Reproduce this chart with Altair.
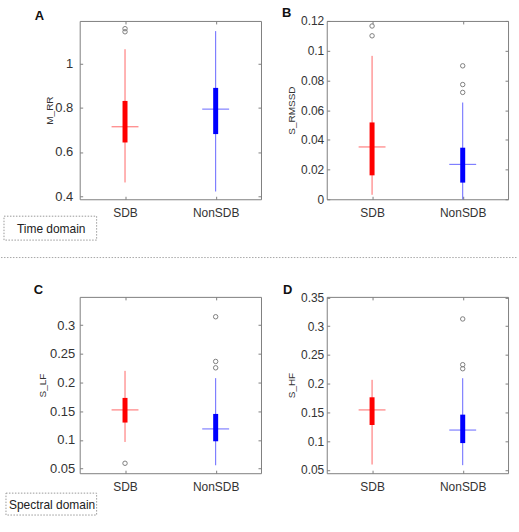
import altair as alt
import pandas as pd

FONT = "Liberation Sans"

groups = ["SDB", "NonSDB"]
box_colors = ["#ff0000", "#0000ff"]

# Box-plot summaries per measure: lower whisker, Q1, median, Q3, upper whisker
mrr_low = [0.462, 0.421]
mrr_q1 = [0.643, 0.681]
mrr_med = [0.714, 0.794]
mrr_q3 = [0.831, 0.890]
mrr_high = [1.065, 1.147]
mrr_out_group = ["SDB", "SDB"]
mrr_out_value = [1.144, 1.158]

rmssd_low = [0.0030, 0.0]
rmssd_q1 = [0.0161, 0.0112]
rmssd_med = [0.0352, 0.0235]
rmssd_q3 = [0.0517, 0.0347]
rmssd_high = [0.0965, 0.0651]
rmssd_out_group = ["SDB", "SDB", "NonSDB", "NonSDB", "NonSDB"]
rmssd_out_value = [0.1166, 0.1100, 0.0898, 0.0772, 0.0719]

lf_low = [0.0964, 0.0558]
lf_q1 = [0.1302, 0.0976]
lf_med = [0.1522, 0.1191]
lf_q3 = [0.1731, 0.1452]
lf_high = [0.2202, 0.2075]
lf_out_group = ["SDB", "NonSDB", "NonSDB", "NonSDB"]
lf_out_value = [0.0593, 0.3144, 0.2366, 0.2255]

hf_low = [0.0593, 0.0582]
hf_q1 = [0.1281, 0.0966]
hf_med = [0.1543, 0.1193]
hf_q3 = [0.1763, 0.1461]
hf_high = [0.2067, 0.2095]
hf_out_group = ["NonSDB", "NonSDB", "NonSDB"]
hf_out_value = [0.3126, 0.2330, 0.2260]

# Axis ranges, tick values and tick label formats
mrr_domain = [0.386, 1.193]
mrr_ticks = [0.4, 0.6, 0.8, 1.0]
rmssd_domain = [0.0, 0.12]
rmssd_ticks = [0, 0.02, 0.04, 0.06, 0.08, 0.1, 0.12]
lf_domain = [0.042, 0.349]
lf_ticks = [0.05, 0.1, 0.15, 0.2, 0.25, 0.3]
hf_domain = [0.0442, 0.351]
hf_ticks = [0.05, 0.1, 0.15, 0.2, 0.25, 0.3, 0.35]

LABEL = "#333333"
FRAME = "#808080"
ONE = alt.Data(values=[{}])


def letter(txt, x, y):
    return alt.Chart(ONE).mark_text(
        align="left", baseline="top", fontSize=13, fontWeight="bold", font=FONT, color="#111111"
    ).encode(x=alt.value(x), y=alt.value(y), text=alt.value(txt))


def framed_note(txt, x1, x2, y1, y2, tx):
    box = alt.Chart(ONE).mark_rect(
        fill="transparent", stroke="#9a9a9a", strokeWidth=1, strokeDash=[1.5, 1.5]
    ).encode(x=alt.value(x1), x2=alt.value(x2), y=alt.value(y1), y2=alt.value(y2))
    text = alt.Chart(ONE).mark_text(
        align="left", baseline="middle", fontSize=12, font=FONT, color="#222222"
    ).encode(x=alt.value(tx), y=alt.value((y1 + y2) / 2 + 0.5), text=alt.value(txt))
    return [box, text]


def panel(ytitle, low, q1, med, q3, high, out_g, out_v, domain, ticks, fmt, height,
          label_size, label_pad, title_x, extras):
    summary = pd.DataFrame({"group": groups, "low": low, "q1": q1, "median": med,
                            "q3": q3, "high": high})
    outliers = pd.DataFrame({"group": out_g, "value": out_v})

    xs = alt.Scale(type="point", domain=groups, padding=0.5)
    ys = alt.Scale(domain=domain, nice=False, zero=False)
    color = alt.Color("group:N", scale=alt.Scale(domain=groups, range=box_colors), legend=None)

    x_axis = alt.Axis(title=None, labelAngle=0, offset=-3, tickSize=3, domain=False,
                      labelPadding=8, labelFontSize=12, labelColor=LABEL, tickColor=FRAME,
                      labelFont=FONT)
    y_axis = alt.Axis(title=ytitle, values=ticks, format=fmt, offset=-3, tickSize=3,
                      domain=False, grid=False, labelPadding=label_pad,
                      labelFontSize=label_size, labelColor=LABEL, tickColor=FRAME,
                      labelFont=FONT, titleFont=FONT, titleFontSize=10,
                      titleFontWeight="normal", titleColor=LABEL, titleAngle=270,
                      titleBaseline="middle", titleAlign="center",
                      titleX=title_x, titleY=height / 2)

    whiskers = alt.Chart(summary).mark_rule(strokeWidth=1, opacity=0.6).encode(
        x=alt.X("group:N", scale=xs, axis=x_axis),
        y=alt.Y("low:Q", scale=ys, axis=y_axis),
        y2="high:Q",
        color=color,
    )
    boxes = alt.Chart(summary).mark_rule(strokeWidth=5, opacity=1).encode(
        x=alt.X("group:N", scale=xs, axis=None),
        y=alt.Y("q1:Q", scale=ys, axis=None),
        y2="q3:Q",
        color=color,
    )
    medians = alt.Chart(summary).mark_tick(
        orient="horizontal", size=27, thickness=1, opacity=0.6
    ).encode(
        x=alt.X("group:N", scale=xs, axis=None),
        y=alt.Y("median:Q", scale=ys, axis=None),
        color=color,
    )
    outl = alt.Chart(outliers).mark_point(
        shape="circle", size=20, filled=False, color="#808080", strokeWidth=1, opacity=1
    ).encode(
        x=alt.X("group:N", scale=xs, axis=None),
        y=alt.Y("value:Q", scale=ys, axis=None),
    )
    # top and right tick marks mirroring the bottom and left axes
    mirror = alt.Chart(summary).mark_point(opacity=0).encode(
        x=alt.X("group:N", scale=xs, axis=alt.Axis(
            orient="top", labels=False, title=None, offset=-3, tickSize=3,
            domain=False, tickColor=FRAME)),
        y=alt.Y("median:Q", scale=ys, axis=alt.Axis(
            orient="right", labels=False, title=None, values=ticks, offset=-3,
            tickSize=3, domain=False, grid=False, tickColor=FRAME)),
    )
    return alt.layer(whiskers, boxes, medians, outl, mirror, *extras).resolve_axis(
        x="independent", y="independent"
    ).properties(width=182, height=height)


# page background extent, separator and notes drawn relative to panel A
page = alt.Chart(ONE).mark_rect(opacity=0).encode(
    x=alt.value(-79), x2=alt.value(440), y=alt.value(-19), y2=alt.value(513)
)
separator = alt.Chart(ONE).mark_rule(color="#a8a8a8", strokeWidth=1, strokeDash=[1.5, 1.5]).encode(
    x=alt.value(-79), x2=alt.value(440), y=alt.value(237.5)
)

panel_a = panel("M_RR", mrr_low, mrr_q1, mrr_med, mrr_q3, mrr_high,
                mrr_out_group, mrr_out_value, mrr_domain, mrr_ticks, ".1~f", 179, 13, 7, -33,
                [page, separator, letter("A", -45, -11)]
                + framed_note("Time domain", -76, 17, 196, 220, -63))
panel_b = panel("S_RMSSD", rmssd_low, rmssd_q1, rmssd_med, rmssd_q3, rmssd_high,
                rmssd_out_group, rmssd_out_value, rmssd_domain, rmssd_ticks, ".2~f", 179, 12, 3, -38,
                [letter("B", -45, -13.5)])
panel_c = panel("S_LF", lf_low, lf_q1, lf_med, lf_q3, lf_high,
                lf_out_group, lf_out_value, lf_domain, lf_ticks, ".2~f", 177, 13, 5, -40,
                [letter("C", -46, -13)]
                + framed_note("Spectral domain", -74, 17, 197, 219, -71))
panel_d = panel("S_HF", hf_low, hf_q1, hf_med, hf_q3, hf_high,
                hf_out_group, hf_out_value, hf_domain, hf_ticks, ".2~f", 177, 12, 3, -38,
                [letter("D", -44, -13)])

chart = alt.concat(
    panel_a, panel_b, panel_c, panel_d,
    columns=2, spacing={"row": 98, "column": 66}, bounds="flush",
).properties(
    padding=0, background="white"
).configure_view(
    stroke=FRAME, strokeWidth=1
)

chart.save("out.html", embed_options={"renderer": "svg", "actions": False})
